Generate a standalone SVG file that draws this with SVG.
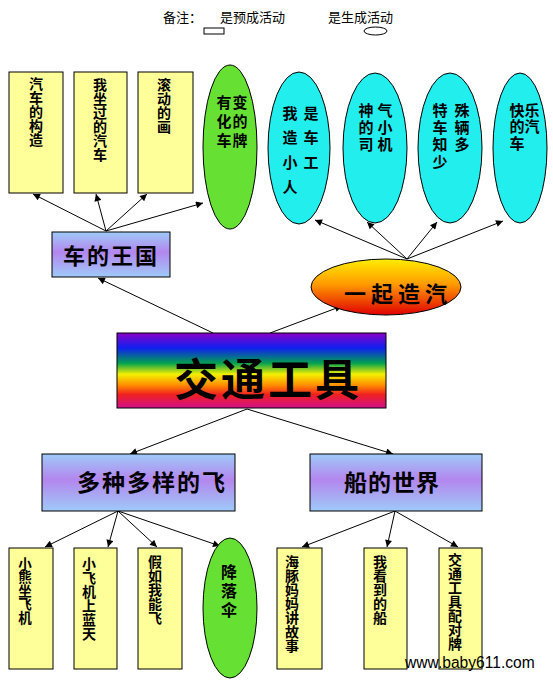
<svg xmlns="http://www.w3.org/2000/svg" width="553" height="689" viewBox="0 0 553 689">
<defs>
  <linearGradient id="gPurple" x1="0" y1="0" x2="0" y2="1">
    <stop offset="0" stop-color="#9fcaf8"/>
    <stop offset="0.45" stop-color="#b386ee"/>
    <stop offset="1" stop-color="#9fcaf8"/>
  </linearGradient>
  <linearGradient id="gRainbow" x1="0" y1="0" x2="0" y2="1">
    <stop offset="0" stop-color="#8a00c8"/>
    <stop offset="0.2" stop-color="#1020f0"/>
    <stop offset="0.4" stop-color="#00a050"/>
    <stop offset="0.55" stop-color="#f4f000"/>
    <stop offset="0.7" stop-color="#ff8a00"/>
    <stop offset="0.82" stop-color="#f02020"/>
    <stop offset="1" stop-color="#d0108a"/>
  </linearGradient>
  <linearGradient id="gFire" x1="0" y1="0" x2="0" y2="1">
    <stop offset="0" stop-color="#ffee00"/>
    <stop offset="0.45" stop-color="#ff9a00"/>
    <stop offset="1" stop-color="#e00000"/>
  </linearGradient>
  <marker id="arr" viewBox="0 0 10 10" refX="10" refY="5" markerWidth="9" markerHeight="7" markerUnits="userSpaceOnUse" orient="auto">
    <path d="M0,0 L10,5 L0,10 z" fill="#000"/>
  </marker>
</defs>
<style>
  .leg { font-family: "Noto Sans CJK SC", sans-serif; font-size: 13px; fill: #000; }
  .yb { fill: #ffff99; stroke: #000; stroke-width: 1; }
  .pb { fill: url(#gPurple); stroke: #000; stroke-width: 1; }
  .ge { fill: #66e033; stroke: #000; stroke-width: 1; }
  .ce { fill: #22eeee; stroke: #000; stroke-width: 1; }
  .v { font-family: "Noto Sans CJK SC", sans-serif; font-weight: bold; fill: #000; writing-mode: vertical-rl; text-orientation: upright; }
  .vt { font-size: 14px; }
  .et { font-size: 15px; }
  .bt { font-family: "Noto Sans CJK SC", sans-serif; font-weight: bold; fill: #000; text-anchor: middle; }
  .cn line { stroke: #000; stroke-width: 1; marker-end: url(#arr); }
</style>
<rect width="553" height="689" fill="#fff"/>

<g id="legend">
  <text class="leg" x="163" y="22">备注：</text>
  <text class="leg" x="220" y="22">是预成活动</text>
  <rect x="204" y="28" width="20" height="6" fill="#fff" stroke="#000" stroke-width="1"/>
  <text class="leg" x="328" y="22">是生成活动</text>
  <ellipse cx="375.5" cy="31" rx="11.5" ry="4" fill="#fff" stroke="#000" stroke-width="1"/>
</g>

<g class="cn" id="connectors">
  <line x1="106" y1="231" x2="33" y2="194"/>
  <line x1="106" y1="231" x2="96" y2="194"/>
  <line x1="106" y1="231" x2="147" y2="194"/>
  <line x1="106" y1="231" x2="203" y2="203"/>
  <line x1="407" y1="259" x2="315" y2="220"/>
  <line x1="407" y1="259" x2="367" y2="222"/>
  <line x1="407" y1="259" x2="437" y2="222"/>
  <line x1="407" y1="259" x2="503" y2="221"/>
  <line x1="213" y1="333" x2="98" y2="278"/>
  <line x1="270" y1="333" x2="342" y2="306"/>
  <line x1="247" y1="409" x2="130" y2="454"/>
  <line x1="247" y1="409" x2="393" y2="454"/>
  <line x1="118" y1="511" x2="45" y2="547"/>
  <line x1="118" y1="511" x2="108" y2="547"/>
  <line x1="118" y1="511" x2="157" y2="547"/>
  <line x1="118" y1="511" x2="220" y2="546"/>
  <line x1="395" y1="511" x2="302" y2="547"/>
  <line x1="395" y1="511" x2="387" y2="547"/>
  <line x1="395" y1="511" x2="458" y2="547"/>
</g>

<g id="n-gouzao">
  <rect class="yb" x="9" y="72" width="54" height="121"/>
  <text class="v vt" x="36" y="77">汽车的构造</text>
</g>
<g id="n-zuoguo">
  <rect class="yb" x="74" y="72" width="53" height="121"/>
  <text class="v vt" x="100" y="78">我坐过的汽车</text>
</g>
<g id="n-gundong">
  <rect class="yb" x="138" y="72" width="55" height="121"/>
  <text class="v vt" x="164" y="78">滚动的画</text>
</g>
<g id="n-chepai">
  <ellipse class="ge" cx="230" cy="147" rx="27" ry="82"/>
  <text class="v et" x="224" y="94.5" letter-spacing="4">有化车</text>
  <text class="v et" x="240" y="94.5" letter-spacing="4">变的牌</text>
</g>
<g id="n-zaoche">
  <ellipse class="ce" cx="299" cy="148" rx="31" ry="76"/>
  <text class="v et" x="290" y="105.5" letter-spacing="9.7">我造小人</text>
  <text class="v et" x="311" y="105.5" letter-spacing="9.7">是车工</text>
</g>
<g id="n-siji">
  <ellipse class="ce" cx="375" cy="148" rx="32" ry="75"/>
  <text class="v et" x="366" y="102.5" letter-spacing="2">神的司</text>
  <text class="v et" x="385" y="102.5" letter-spacing="2">气小机</text>
</g>
<g id="n-teshu">
  <ellipse class="ce" cx="450" cy="148" rx="32" ry="75"/>
  <text class="v et" x="440" y="102.5" letter-spacing="2.3">特车知少</text>
  <text class="v et" x="462" y="102.5" letter-spacing="2.3">殊辆多</text>
</g>
<g id="n-kuaile">
  <ellipse class="ce" cx="520" cy="148" rx="27" ry="75"/>
  <text class="v et" x="517" y="102.5" letter-spacing="1.5">快的车</text>
  <text class="v et" x="532" y="102.5" letter-spacing="1.5">乐汽</text>
</g>

<g id="n-wangguo">
  <rect class="pb" x="52" y="232" width="118" height="45"/>
  <text class="bt" x="111" y="264" font-size="22" letter-spacing="2">车的王国</text>
</g>
<g id="n-yiqi">
  <ellipse cx="386" cy="287" rx="75" ry="28" fill="url(#gFire)" stroke="#000" stroke-width="1"/>
  <text class="bt" x="398" y="302" font-size="22" font-weight="normal" letter-spacing="5" fill="#300">一起造汽</text>
</g>
<g id="n-center">
  <rect x="117" y="333" width="269" height="75" fill="url(#gRainbow)" stroke="#000" stroke-width="1"/>
  <text class="bt" x="268" y="396" font-size="44" font-weight="normal" letter-spacing="3">交通工具</text>
</g>
<g id="n-fei">
  <rect class="pb" x="42" y="454" width="193" height="57"/>
  <text class="bt" x="152" y="491" font-size="23" letter-spacing="2">多种多样的飞</text>
</g>
<g id="n-chuan">
  <rect class="pb" x="310" y="454" width="172" height="57"/>
  <text class="bt" x="392" y="491" font-size="23" letter-spacing="1">船的世界</text>
</g>

<g id="n-xiaoxiong">
  <rect class="yb" x="9" y="548" width="44" height="121"/>
  <text class="v" x="25" y="557" font-size="13.5">小熊坐飞机</text>
</g>
<g id="n-lantian">
  <rect class="yb" x="74" y="548" width="43" height="121"/>
  <text class="v vt" x="89" y="557">小飞机上蓝天</text>
</g>
<g id="n-jiaru">
  <rect class="yb" x="138" y="548" width="44" height="121"/>
  <text class="v vt" x="155" y="555">假如我能飞</text>
</g>
<g id="n-jiangluosan">
  <ellipse class="ge" cx="230" cy="608" rx="27" ry="70"/>
  <text class="v" x="229" y="564" font-size="16" letter-spacing="3">降落伞</text>
</g>
<g id="n-haitun">
  <rect class="yb" x="277" y="548" width="45" height="121"/>
  <text class="v vt" x="292" y="555">海豚妈妈讲故事</text>
</g>
<g id="n-kandao">
  <rect class="yb" x="364" y="548" width="43" height="121"/>
  <text class="v vt" x="380" y="555">我看到的船</text>
</g>
<g id="n-peidui">
  <rect class="yb" x="439" y="548" width="43" height="121"/>
  <text class="v vt" x="455" y="553">交通工具配对牌</text>
</g>

<text x="405" y="668" font-family="Liberation Sans, Arial, sans-serif" font-size="15.6" fill="#000">www.baby611.com</text>
</svg>
